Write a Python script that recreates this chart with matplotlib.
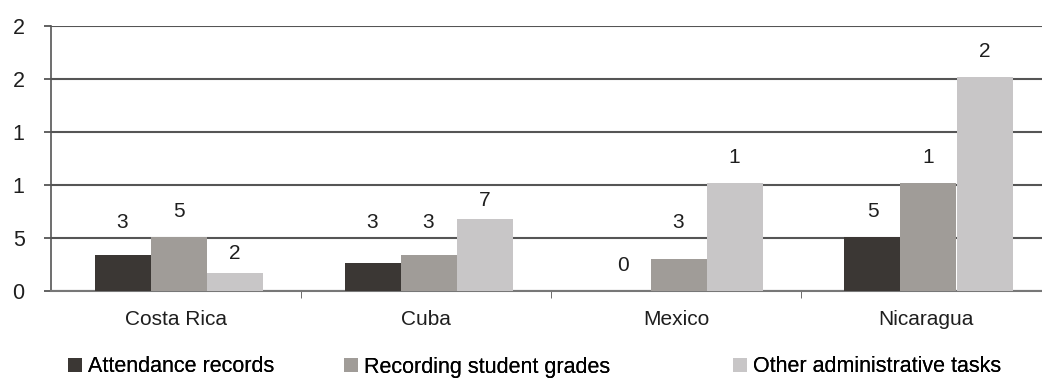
import matplotlib.pyplot as plt
import numpy as np

plt.rcParams['font.family'] = ['Liberation Sans', 'DejaVu Sans']

countries = ['Costa Rica', 'Cuba', 'Mexico', 'Nicaragua']
series_names = ['Attendance records', 'Recording student grades', 'Other administrative tasks']
attendance = [3.4, 2.6, 0.0, 5.1]
grades = [5.1, 3.4, 3.0, 10.2]
other_tasks = [1.7, 6.8, 10.2, 20.2]
value_labels = [['3', '3', '0', '5'],
                ['5', '3', '3', '1'],
                ['2', '7', '1', '2']]
yticks = [0, 5, 10, 15, 20, 25]
ytick_labels = ['0', '5', '1', '1', '2', '2']

colors = ['#3b3734', '#a09c98', '#c8c6c7']
txt = '#1e1e1e'


def label_y(v, off=2.4, gap=1.5):
    # keep the number clear of the nearest gridline
    y = v + off
    g = round(y / 5) * 5
    if abs(y - g) < gap:
        y = g + gap if y >= g else g - gap
    return y


fig = plt.figure(figsize=(10.42, 3.78), dpi=100)
ax = fig.add_axes([51 / 1042, 87 / 378, 1000 / 1042, 265 / 378])

x = np.arange(len(countries))
w = 0.224
handles = []
for i, vals in enumerate([attendance, grades, other_tasks]):
    pos = x + (i - 1) * w + 0.01
    b = ax.bar(pos, vals, w, color=colors[i], label=series_names[i], zorder=3)
    handles.append(b)
    for px, v, t in zip(pos, vals, value_labels[i]):
        ax.text(px, label_y(v), t, ha='center', va='center', fontsize=15, color=txt)

ax.set_xlim(-0.5, 3.5)
ax.set_ylim(0, 25)
ax.set_yticks(yticks)
ax.set_yticklabels(ytick_labels, fontsize=15.5, color=txt)
ax.yaxis.grid(True, color='#555555', linewidth=1.5, zorder=0)
ax.set_xticks(x)
ax.set_xticklabels(countries, fontsize=15, color=txt)
ax.set_xticks([0.5, 1.5, 2.5], minor=True)
ax.tick_params(axis='x', which='major', length=0, pad=14)
ax.tick_params(axis='x', which='minor', length=5, color='#555555', direction='out')
ax.tick_params(axis='y', length=5, color='#555555', width=1.3, pad=14)

for s in ['top', 'right']:
    ax.spines[s].set_visible(False)
ax.spines['left'].set_color('#555555')
ax.spines['left'].set_linewidth(1.2)
ax.spines['bottom'].set_color('#777777')
ax.spines['bottom'].set_linewidth(1.5)

# legend entries sit at uneven spacing, one legend box each
for h, name, lx in zip(handles, series_names, [68, 344, 733]):
    lg = fig.legend([h], [name], loc='center left', bbox_to_anchor=(lx / 1042, 11 / 378),
                    frameon=False, fontsize=15.5, handlelength=0.65, handleheight=0.65,
                    handletextpad=0.3, borderpad=0, borderaxespad=0)
    fig.add_artist(lg)

fig.savefig('out.png', dpi=100)
